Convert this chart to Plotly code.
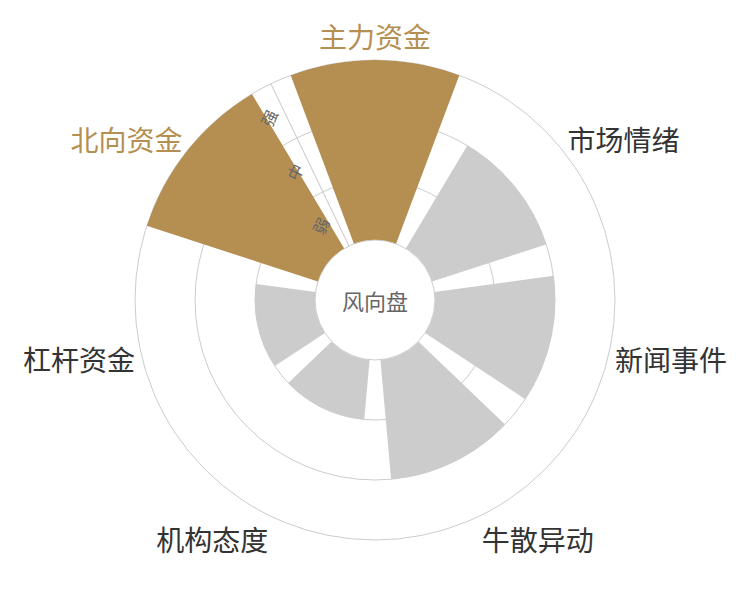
import math
import plotly.graph_objects as go

categories = ['主力资金', '市场情绪', '新闻事件', '牛散异动', '机构态度', '杠杆资金', '北向资金']
levels = [3, 2, 2, 2, 1, 1, 3]          # 1=弱, 2=中, 3=强
level_labels = ['弱', '中', '强']
level_ticks = [0.5, 1.5, 2.5]
grid_vals = [0, 1, 2, 3]

GOLD = '#B58F52'
GRAY = '#CCCCCC'
TEXT = '#333333'
FONT = 'Noto Sans CJK SC'

HOLE = 0.25
RMAX = 3

bar_colors = [GOLD if v == 3 else GRAY for v in levels]
tick_text = [f'<span style="color:{GOLD}">{c}</span>' if v == 3 else c
             for c, v in zip(categories, levels)]

n = len(categories)
axis_angle = 90 + 180 / n   # radial axis sits on the boundary between 北向资金 and 主力资金

fig = go.Figure()
fig.add_trace(go.Barpolar(
    r=levels, theta=categories, width=0.8,
    marker=dict(color=bar_colors, line=dict(width=0)),
    subplot='polar', hoverinfo='skip'))

# radial level labels (弱/中/强) centred in each ring band, rotated along the radial axis
plot_px = 480.0
offset_px = 17.0
a = math.radians(axis_angle)
level_annotations = []
for v, lab in zip(level_ticks, level_labels):
    rr = (HOLE + (1 - HOLE) * v / RMAX) * 0.5 * plot_px
    xp = rr * math.cos(a) + offset_px * math.cos(a + math.pi / 2)
    yp = rr * math.sin(a) + offset_px * math.sin(a + math.pi / 2)
    level_annotations.append(dict(
        text=lab, x=0.5 + xp / plot_px, y=0.5 + yp / plot_px,
        xref='paper', yref='paper', xanchor='center', yanchor='middle',
        showarrow=False, textangle=-(180 - axis_angle),
        font=dict(size=16, color='#666666', family=FONT)))

fig.update_layout(
    width=750, height=600,
    margin=dict(l=127, r=143, t=52, b=68),
    paper_bgcolor='white',
    showlegend=False,
    font=dict(family=FONT),
    polar=dict(
        domain=dict(x=[0, 1], y=[0, 1]),
        hole=HOLE,
        bgcolor='white',
        radialaxis=dict(range=[0, RMAX], tickvals=grid_vals, showticklabels=False,
                        ticks='', showgrid=True, gridcolor='#CCCCCC', gridwidth=1,
                        showline=True, linecolor='#CCCCCC', linewidth=1,
                        angle=axis_angle, layer='below traces'),
        angularaxis=dict(rotation=90, direction='clockwise', categoryorder='array',
                         categoryarray=categories, tickvals=categories, ticktext=tick_text,
                         showgrid=False, showline=True, linecolor='#CCCCCC', linewidth=1,
                         ticks='', tickfont=dict(size=28, color=TEXT, family=FONT),
                         layer='below traces'),
    ),
    annotations=[dict(text='风向盘', x=0.5, y=0.5, xref='paper', yref='paper',
                      xanchor='center', yanchor='middle', showarrow=False,
                      font=dict(size=22, color='#666666', family=FONT))]
                + level_annotations,
)

fig.write_html('out.html')
